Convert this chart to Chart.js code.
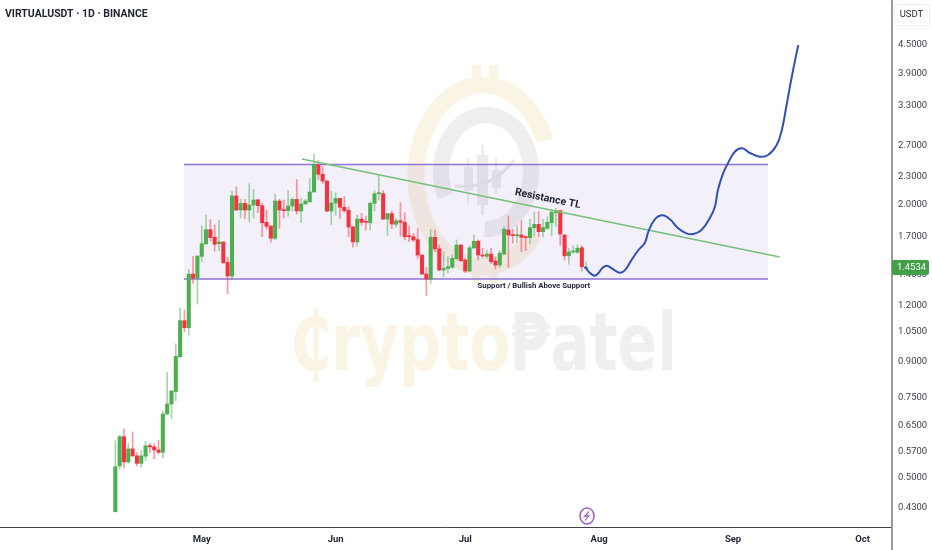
<!DOCTYPE html>
<html>
<head>
<meta charset="utf-8">
<title>VIRTUALUSDT</title>
<script src="https://cdn.jsdelivr.net/npm/chart.js@4"></script>
<style>
  body { margin: 0; background: #fff; }
  canvas { display: block; }
</style>
</head>
<body>
<canvas id="chart" width="932" height="550"></canvas>
<script>
// daily candles, day 0 = Apr 11
const opens = [.42,.530,.615,.541,.578,.558,.537,.557,.588,.584,.575,.568,.690,.726,.774,.923,1.109,1.070,1.405,1.377,
  1.538,1.637,1.761,1.694,1.640,1.654,1.491,1.391,2.090,1.946,2.013,1.946,1.996,2.050,1.989,1.828,1.794,1.686,2.037,1.949,
  1.939,1.986,2.054,1.936,2.006,2.027,2.132,2.450,2.333,2.255,1.936,2.016,2.064,1.973,1.943,1.785,1.654,1.858,1.837,1.824,
  2.013,2.114,2.114,1.858,1.910,1.809,1.842,1.828,1.705,1.699,1.674,1.548,1.405,1.370,1.694,1.598,1.434,1.446,1.454,1.519,
  1.629,1.509,1.427,1.604,1.660,1.548,1.538,1.556,1.501,1.471,1.556,1.758,1.717,1.708,1.714,1.699,1.691,1.779,1.809,1.743,
  1.773,1.824,1.919,1.939,1.714,1.542,1.572,1.570,1.606,1.446];
const highs = [.602,.620,.639,.594,.630,.567,.573,.601,.595,.593,.604,.700,.853,.776,.986,1.183,1.171,1.439,1.537,1.540,
  1.794,1.897,1.852,1.803,1.849,1.654,1.530,2.143,2.190,2.054,2.054,2.224,2.161,2.050,2.019,1.943,1.794,2.111,2.054,2.047,
  2.147,2.071,2.270,2.064,2.054,2.285,2.586,2.499,2.425,2.255,2.143,2.125,2.064,2.082,1.979,1.794,1.897,1.913,1.887,2.030,
  2.147,2.329,2.147,1.910,1.936,1.865,2.019,1.919,1.794,1.728,1.773,1.548,1.453,1.764,1.758,1.629,1.575,1.533,1.548,1.671,
  1.629,1.522,1.621,1.714,1.671,1.602,1.588,1.602,1.534,1.583,1.788,1.888,1.764,1.794,1.842,1.699,1.856,1.924,1.929,1.856,
  1.881,1.953,1.963,1.946,1.714,1.602,1.621,1.629,1.621,1.496];
const lows = [.42,.522,.524,.537,.556,.530,.527,.545,.567,.550,.563,.552,.690,.674,.738,.920,1.049,1.030,1.340,1.207,
  1.496,1.637,1.663,1.580,1.580,1.484,1.272,1.363,1.939,1.871,1.862,1.833,1.865,1.919,1.699,1.767,1.652,1.674,1.773,1.867,
  1.887,1.936,1.904,1.824,2.003,2.027,2.132,2.274,2.226,1.929,1.806,1.894,1.865,1.923,1.699,1.610,1.621,1.803,1.758,1.758,
  1.936,2.047,1.858,1.711,1.770,1.783,1.705,1.671,1.657,1.657,1.522,1.405,1.261,1.340,1.575,1.429,1.386,1.411,1.446,1.509,
  1.496,1.416,1.422,1.602,1.509,1.522,1.522,1.484,1.441,1.455,1.548,1.455,1.643,1.648,1.575,1.583,1.643,1.705,1.699,1.699,
  1.764,1.705,1.791,1.623,1.509,1.478,1.561,1.561,1.427,1.439];
const closes = [.528,.615,.541,.578,.558,.537,.558,.587,.584,.575,.568,.690,.726,.776,.925,1.109,1.070,1.405,1.377,1.540,
  1.640,1.761,1.691,1.635,1.654,1.488,1.391,2.090,1.946,2.013,1.946,1.996,2.047,1.989,1.824,1.791,1.686,2.037,1.946,1.939,
  1.986,2.054,1.936,2.006,2.037,2.132,2.450,2.333,2.255,1.936,2.016,2.064,1.973,1.939,1.785,1.654,1.858,1.828,1.828,2.013,
  2.114,2.122,1.858,1.910,1.812,1.842,1.828,1.699,1.699,1.671,1.548,1.405,1.370,1.694,1.598,1.434,1.446,1.459,1.522,1.629,
  1.504,1.427,1.606,1.660,1.548,1.540,1.556,1.496,1.471,1.562,1.764,1.714,1.708,1.714,1.694,1.691,1.779,1.809,1.743,1.779,
  1.828,1.923,1.939,1.722,1.542,1.572,1.580,1.602,1.459,1.4534];

// hand drawn projection
const pathDays = [108.7,109.7,110.9,111.8,112.8,113.8,114.9,116.7,118,119.5,121.1,122.6,123.4,124.9,126.7,128.4,130.3,132.2,133.8,135.7,137.6,138.8,139.5,140.7,141.8,143.4,145.1,146.8,149.2,151.1,153.1,154.3,155.4,156.6,158.1];
const pathPrices = [1.459,1.418,1.394,1.411,1.451,1.466,1.447,1.415,1.434,1.509,1.588,1.648,1.743,1.856,1.894,1.856,1.773,1.728,1.722,1.758,1.865,1.979,2.154,2.344,2.466,2.616,2.662,2.603,2.551,2.573,2.707,2.922,3.317,3.830,4.500];

const rangeDays = [15.9, 151.1];
const rangeTop = 2.452;
const rangeBottom = 1.3706;
const trendDays = [43.2, 153.8];
const trendPrices = [2.521, 1.532];

const priceTicks = [4.5,3.9,3.3,2.7,2.3,2.0,1.7,1.4,1.2,1.05,0.9,0.75,0.65,0.57,0.5,0.43];
const monthLabels = ['May','Jun','Jul','Aug','Sep','Oct'];
const monthDays = [20,51,81,112,143,173];
const lastPrice = 1.4534;

const GREEN = '#4caf50', RED = '#f7323f';
const isUp = (i) => closes[i] >= opens[i];
const days = opens.map((_, i) => i);
const xy = (xs, ys) => xs.map((x, i) => ({ x, y: ys[i] }));

// faint logo and wordmark behind everything
function drawWatermark(ctx) {
  ctx.save();
  ctx.lineCap = 'butt';
  ctx.strokeStyle = '#faf4e4';
  ctx.fillStyle = '#faf4e4';
  ctx.lineWidth = 17;
  ctx.beginPath();
  ctx.ellipse(483, 176, 67, 91, 0, -0.4, 0.7, true);
  ctx.stroke();
  ctx.fillRect(472, 65, 9, 14);
  ctx.fillRect(489, 65, 9, 14);
  ctx.fillRect(472, 266, 9, 17);
  ctx.fillRect(489, 266, 9, 17);

  ctx.strokeStyle = '#eeeeee';
  ctx.lineWidth = 16;
  ctx.beginPath();
  ctx.ellipse(486, 172, 45, 57, 0, 2.7, 1.6 + Math.PI * 2);
  ctx.stroke();
  ctx.fillStyle = '#ececec';
  ctx.fillRect(477, 155, 11, 50);
  ctx.fillRect(481, 145, 3, 70);
  ctx.fillRect(464, 167, 9, 24);
  ctx.fillRect(467, 158, 2, 45);
  ctx.fillRect(492, 170, 9, 18);
  ctx.fillRect(495, 158, 2, 36);
  ctx.strokeStyle = '#e8e8e8';
  ctx.lineWidth = 3;
  ctx.beginPath();
  ctx.moveTo(455, 186);
  ctx.quadraticCurveTo(492, 190, 514, 160);
  ctx.stroke();

  ctx.font = 'bold 80px "DejaVu Sans"';
  ctx.textBaseline = 'alphabetic';
  const w1 = ctx.measureText('₵rypto').width;
  const w2 = ctx.measureText('₱atel').width;
  ctx.fillStyle = '#faf4e4';
  ctx.save();
  ctx.translate(290, 370);
  ctx.scale(220 / w1, 1);
  ctx.fillText('₵rypto', 0, 0);
  ctx.restore();
  ctx.fillStyle = '#efefef';
  ctx.save();
  ctx.translate(510, 370);
  ctx.scale(167 / w2, 1);
  ctx.fillText('₱atel', 0, 0);
  ctx.restore();
  ctx.restore();
}

const overlayPlugin = {
  id: 'overlay',
  beforeDatasetsDraw(chart) {
    drawWatermark(chart.ctx);
  },
  afterDraw(chart) {
    const { ctx, scales: { x, y } } = chart;
    ctx.save();

    // price axis line runs on through the date strip
    ctx.fillStyle = '#9a9a9a';
    ctx.fillRect(891, 527, 2, 23);

    ctx.fillStyle = '#1f2430';
    ctx.textBaseline = 'middle';
    ctx.textAlign = 'left';
    ctx.font = 'bold 10.5px Roboto';
    ctx.fillText('VIRTUALUSDT · 1D · BINANCE', 5, 14);

    ctx.textAlign = 'center';
    ctx.font = 'bold 7.8px Roboto';
    ctx.fillText('Support / Bullish Above Support', x.getPixelForValue(96.9), y.getPixelForValue(1.319));

    ctx.save();
    ctx.translate(x.getPixelForValue(100.1), y.getPixelForValue(2.058));
    ctx.rotate(11.5 * Math.PI / 180);
    ctx.font = 'bold 10.5px Roboto';
    ctx.fillText('Resistance TL', 0, 0);
    ctx.restore();

    // currency box
    ctx.strokeStyle = '#eeeeee';
    ctx.fillStyle = '#ffffff';
    ctx.beginPath();
    ctx.roundRect(894.5, 4.5, 35, 21, 2);
    ctx.fill();
    ctx.stroke();
    ctx.fillStyle = '#1f2430';
    ctx.font = '9.5px Roboto';
    ctx.fillText('USDT', 911.5, 15);

    // last price tag
    const py = y.getPixelForValue(lastPrice);
    ctx.fillStyle = '#43a047';
    ctx.beginPath();
    ctx.roundRect(892, py - 7.5, 37, 15, 2);
    ctx.fill();
    ctx.fillStyle = '#ffffff';
    ctx.fillText(lastPrice.toFixed(4), 911.5, py + 0.5);

    // news marker
    ctx.strokeStyle = '#9c5fc4';
    ctx.lineWidth = 1.5;
    ctx.beginPath();
    ctx.ellipse(587, 516, 7, 8, 0, 0, Math.PI * 2);
    ctx.stroke();
    ctx.lineWidth = 1.2;
    ctx.beginPath();
    ctx.moveTo(589, 511.5);
    ctx.lineTo(584.5, 516.5);
    ctx.lineTo(589, 515.5);
    ctx.lineTo(585, 520.5);
    ctx.stroke();
    ctx.restore();
  }
};

new Chart(document.getElementById('chart'), {
  type: 'bar',
  data: {
    datasets: [
      { type: 'line', data: xy(rangeDays, [rangeTop, rangeTop]), borderColor: '#8f73d6', borderWidth: 1.5, pointRadius: 0, fill: '+1', backgroundColor: 'rgba(103,58,183,0.08)', order: 6 },
      { type: 'line', data: xy(rangeDays, [rangeBottom, rangeBottom]), borderColor: '#8f73d6', borderWidth: 1.5, pointRadius: 0, fill: false, order: 6 },
      { data: days.map((i) => ({ x: i, y: [lows[i], highs[i]] })), backgroundColor: days.map((i) => isUp(i) ? 'rgba(76,175,80,0.5)' : 'rgba(247,50,63,0.5)'), barThickness: 1, grouped: false, order: 5 },
      { data: days.map((i) => ({ x: i, y: [Math.min(opens[i], closes[i]), Math.max(opens[i], closes[i])] })), backgroundColor: days.map((i) => isUp(i) ? GREEN : RED), barThickness: 3.4, minBarLength: 1, grouped: false, order: 4 },
      { type: 'line', data: xy(trendDays, trendPrices), borderColor: '#76c07b', borderWidth: 1.5, pointRadius: 0, fill: false, order: 3 },
      { type: 'line', data: xy(pathDays, pathPrices), borderColor: '#2f50b5', borderWidth: 2, pointRadius: 0, tension: 0.4, fill: false, order: 2 }
    ]
  },
  options: {
    responsive: false,
    animation: false,
    layout: { padding: 0 },
    plugins: { legend: { display: false }, tooltip: { enabled: false } },
    scales: {
      x: {
        type: 'linear',
        min: -26.7,
        max: 179.8,
        offset: false,
        grid: { display: false, drawTicks: false },
        border: { color: '#444444', width: 1 },
        afterFit: (s) => { s.height = 23; },
        afterBuildTicks: (s) => { s.ticks = monthDays.map((v) => ({ value: v })); },
        ticks: {
          autoSkip: false,
          maxRotation: 0,
          padding: 7,
          color: '#1f2430',
          font: { family: 'Roboto', size: 9.5, weight: 'bold' },
          callback: (v) => monthLabels[monthDays.indexOf(v)]
        }
      },
      y: {
        type: 'logarithmic',
        position: 'right',
        bounds: 'data',
        min: 0.3887,
        max: 5.656,
        grid: { display: false, drawTicks: false },
        border: { color: '#9a9a9a', width: 2 },
        // no room reserved above the first label: the plot starts at the very top
        afterFit: (s) => { s.width = 40; s.paddingTop = 0; s.paddingBottom = 0; },
        afterBuildTicks: (s) => { s.ticks = priceTicks.map((v) => ({ value: v })); },
        ticks: {
          autoSkip: false,
          padding: 6,
          color: '#3a3f4a',
          font: { family: 'Roboto', size: 9.5 },
          callback: (v) => Number(v).toFixed(4)
        }
      }
    }
  },
  plugins: [overlayPlugin]
});
</script>
</body>
</html>
